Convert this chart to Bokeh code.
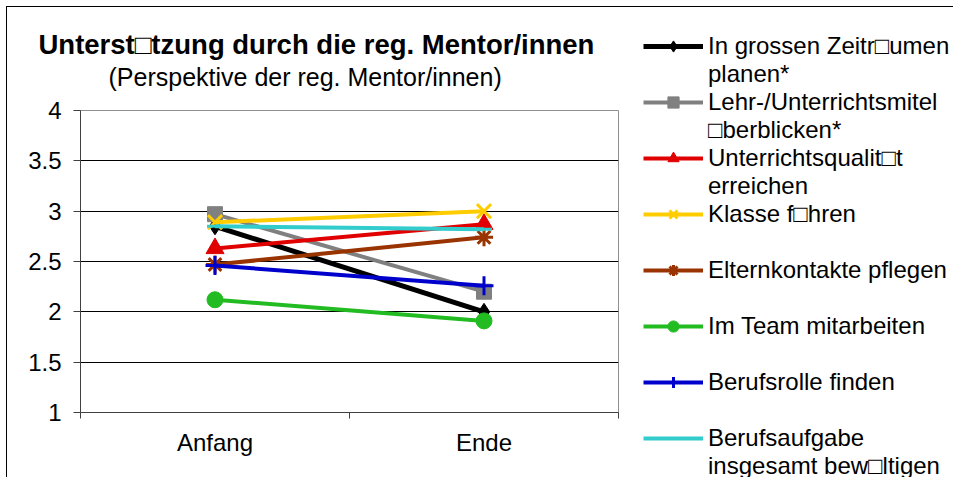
from bokeh.plotting import figure
from bokeh.layouts import row
from bokeh.models import Range1d, FixedTicker, Legend, LegendItem, Title, NumeralTickFormatter
from bokeh.embed import file_html
from bokeh.resources import INLINE

# ---- data ----
categories = ["Anfang", "Ende"]
series_names = [
    "In grossen Zeitr\u25a1umen\nplanen*",
    "Lehr-/Unterrichtsmitel\n\u25a1berblicken*",
    "Unterrichtsqualit\u25a1t\nerreichen",
    "Klasse f\u25a1hren",
    "Elternkontakte pflegen",
    "Im Team mitarbeiten",
    "Berufsrolle finden",
    "Berufsaufgabe\ninsgesamt bew\u25a1ltigen",
]
zeitraeume = [2.85, 2.00]
unterrichtsmittel = [2.97, 2.20]
qualitaet = [2.63, 2.87]
klasse = [2.89, 3.00]
eltern = [2.47, 2.74]
team = [2.12, 1.91]
berufsrolle = [2.46, 2.26]
berufsaufgabe = [2.85, 2.82]
y_ticks = [1, 1.5, 2, 2.5, 3, 3.5, 4]

series_values = [zeitraeume, unterrichtsmittel, qualitaet, klasse, eltern, team, berufsrolle, berufsaufgabe]
colors = ["#000000", "#808080", "#E00000", "#FFCC00", "#993300", "#22BB22", "#0000CC", "#33CCCC"]
markers = ["diamond", "square", "triangle", "x", "asterisk", "circle", "cross", "dash"]
msizes = [17, 15, 18, 20, 18, 16, 19, 16]

FONT = "Liberation Sans"
FS = "24px"

xpos = [i + 0.5 for i in range(len(categories))]

p = figure(frame_width=538, frame_height=302,
           x_range=Range1d(0, len(categories)), y_range=Range1d(1, 4),
           output_backend="svg", toolbar_location=None)
p.min_border_left = 73
p.min_border_right = 335
p.min_border_top = 103
p.min_border_bottom = 65
p.outline_line_color = "#909090"
p.outline_line_width = 1
p.background_fill_color = "white"
p.border_fill_color = "white"

# y axis
p.yaxis.ticker = FixedTicker(ticks=y_ticks)
p.yaxis.formatter = NumeralTickFormatter(format="0.[0]")
p.yaxis.major_tick_out = 7
p.yaxis.major_tick_in = 0
p.yaxis.minor_tick_out = 0
p.yaxis.minor_tick_in = 0
p.yaxis.axis_line_color = "#404040"
p.yaxis.major_tick_line_color = "#404040"
p.yaxis.major_label_text_font = FONT
p.yaxis.major_label_text_font_size = FS
p.yaxis.major_label_text_color = "black"
p.yaxis.major_label_standoff = 12

# x axis
p.xaxis.ticker = FixedTicker(ticks=xpos, minor_ticks=list(range(len(categories) + 1)))
p.xaxis.major_label_overrides = {x: c for x, c in zip(xpos, categories)}
p.xaxis.major_tick_out = 0
p.xaxis.major_tick_in = 0
p.xaxis.minor_tick_out = 6
p.xaxis.minor_tick_in = 0
p.xaxis.minor_tick_line_color = "#404040"
p.xaxis.axis_line_color = "#404040"
p.xaxis.major_label_text_font = FONT
p.xaxis.major_label_text_font_size = FS
p.xaxis.major_label_text_color = "black"
p.xaxis.major_label_standoff = 10

p.xgrid.visible = False
p.ygrid.ticker = FixedTicker(ticks=y_ticks)
p.ygrid.grid_line_color = "black"
p.ygrid.grid_line_width = 1

items = []
for name, vals, col, mk, ms in zip(series_names, series_values, colors, markers, msizes):
    lw = 5 if col == "#000000" else 4
    lr = p.line(xpos, vals, line_color=col, line_width=lw)
    sr = p.scatter(xpos, vals, marker=mk, size=ms, fill_color=col, line_color=col,
                   line_width=3 if mk in ("x", "asterisk", "cross", "dash") else 1)
    lines = name.split("\n")
    first = lines[0]
    rest = lines[1] if len(lines) > 1 else ""
    items.append(LegendItem(label=first, renderers=[lr, sr]))
    items.append(LegendItem(label=rest, renderers=[]))

legend = Legend(items=items, location=(25, -68), glyph_width=60, glyph_height=28,
                label_standoff=5, spacing=0, padding=0, margin=0, label_height=28,
                border_line_alpha=0, background_fill_alpha=0,
                label_text_font=FONT, label_text_font_size=FS, label_text_color="black")
p.add_layout(legend, "right")

subtitle = Title(text="(Perspektive der reg. Mentor/innen)", align="left", offset=28,
                 text_font=FONT, text_font_size="25px", text_font_style="normal",
                 text_color="black", standoff=40)
title = Title(text="Unterst\u25a1tzung durch die reg. Mentor/innen", align="left", offset=-42,
              text_font=FONT, text_font_size="27.5px", text_font_style="bold",
              text_color="black", standoff=-39)
p.add_layout(subtitle, "above")
p.add_layout(title, "above")

layout = row(p, styles={"margin-left": "6px", "margin-top": "6px",
                        "border-left": "1px solid black", "border-top": "1px solid black"})

open("out.html", "w").write(file_html(layout, INLINE))
